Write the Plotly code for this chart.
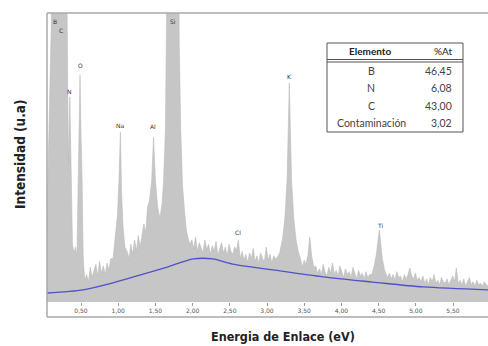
import plotly.graph_objects as go

# ---------------- data ----------------
energy_kev = [
    0.040, 0.060, 0.080, 0.100, 0.115, 0.300, 0.315, 0.330, 0.350, 0.370,
    0.385, 0.405, 0.425, 0.445, 0.460, 0.475, 0.487, 0.500, 0.515, 0.530, 0.550,
    0.575, 0.600, 0.625, 0.650, 0.675, 0.700, 0.725, 0.750, 0.775, 0.800,
    0.825, 0.850, 0.875, 0.900,
    0.930, 0.960, 0.990, 1.010, 1.030, 1.045, 1.065, 1.090, 1.120,
    1.145, 1.170, 1.195, 1.220, 1.245, 1.270, 1.295, 1.320,
    1.345, 1.370, 1.395, 1.420, 1.450, 1.475, 1.500, 1.530, 1.560, 1.590,
    1.610, 1.635, 1.660, 1.675, 1.805, 1.820, 1.840, 1.865, 1.890,
    1.915, 1.940, 1.965, 1.990, 2.015, 2.040, 2.065, 2.090, 2.115, 2.140,
    2.165, 2.190, 2.215, 2.240, 2.265, 2.290, 2.315, 2.340, 2.365, 2.390,
    2.415, 2.440, 2.465, 2.490, 2.515, 2.540, 2.565, 2.590, 2.615, 2.640,
    2.665, 2.690, 2.715, 2.740, 2.765, 2.790, 2.815, 2.840, 2.865, 2.890,
    2.915, 2.940, 2.965, 2.990, 3.015, 3.040, 3.065, 3.090, 3.115, 3.140,
    3.170, 3.210, 3.240, 3.270, 3.300, 3.330, 3.360, 3.390, 3.420, 3.450,
    3.475, 3.500, 3.520, 3.550, 3.575, 3.600, 3.630,
    3.655, 3.680, 3.705, 3.730, 3.755, 3.780, 3.805, 3.830, 3.855, 3.880,
    3.905, 3.930, 3.955, 3.980, 4.005, 4.030, 4.055, 4.080, 4.105, 4.130,
    4.155, 4.180, 4.205, 4.230, 4.255, 4.280, 4.305, 4.330, 4.355, 4.380,
    4.410, 4.440, 4.470, 4.490, 4.510, 4.530, 4.550, 4.580, 4.620,
    4.645, 4.670, 4.695, 4.720, 4.745, 4.770, 4.795, 4.820, 4.845, 4.870,
    4.895, 4.920, 4.945, 4.970, 4.995, 5.020, 5.045,
    5.070, 5.095, 5.120, 5.145, 5.170, 5.195, 5.220, 5.245, 5.270, 5.295,
    5.320, 5.345, 5.370, 5.395, 5.420, 5.445, 5.470, 5.495, 5.520, 5.545,
    5.570, 5.595, 5.620, 5.645, 5.670, 5.695, 5.720, 5.745, 5.770, 5.795,
    5.820, 5.845, 5.870, 5.895, 5.920, 5.945, 5.970,
]
intensity = [
    250, 450, 700, 950, 1600, 1600, 950, 480, 710, 420,
    200, 170, 190, 160, 420, 590, 785, 580, 420, 150, 75,
    95, 70, 120, 85, 110, 130, 90, 140, 100, 125,
    95, 135, 110, 150,
    150, 220, 300, 420, 588, 380, 260, 190, 175,
    150, 200, 165, 215, 175, 230, 190, 240,
    270, 240, 330, 350, 420, 570, 420, 330, 290, 340,
    420, 600, 900, 1600, 1600, 900, 600, 400, 320,
    250, 220, 200, 215, 185, 225, 175, 205, 190, 170,
    215, 180, 200, 165, 195, 175, 210, 160, 185, 205,
    170, 190, 160, 200, 175, 165, 190, 180, 215, 150,
    175, 145, 165, 135, 170, 150, 185, 140, 160, 135,
    170, 150, 140, 190, 145, 165, 135, 160, 150, 155,
    170, 220, 290, 420, 758, 420, 290, 215, 175, 150,
    120, 145, 130, 160, 225, 160, 120,
    125, 100, 115, 95, 130, 105, 90, 120, 100, 135,
    95, 110, 90, 125, 100, 85, 115, 95, 105, 85,
    120, 95, 80, 110, 90, 100, 80, 105, 85, 95,
    95, 125, 165, 210, 249, 200, 150, 110, 85,
    100, 80, 95, 75, 105, 85, 90, 70, 95, 80,
    95, 118, 90, 80, 100, 75, 85,
    70, 90, 65, 80, 60, 85, 70, 95, 65, 75,
    60, 85, 70, 65, 80, 60, 75, 90, 70, 118,
    65, 75, 60, 80, 55, 70, 85, 60, 70, 55,
    75, 60, 65, 55, 70, 60, 55,
]
assert len(energy_kev) == len(intensity)

background_kev = [0.04, 0.53, 0.93, 1.29, 1.66, 2.01, 2.27, 2.54, 3.08, 3.75, 4.42, 5.10, 5.97]
background_counts = [31, 42, 66, 93, 121, 149, 149, 131, 111, 87, 69, 52, 42]

peak_labels = ["B", "C", "N", "O", "Na", "Al", "Si", "Cl", "K", "Ti"]
peak_label_kev = [0.151, 0.231, 0.352, 0.487, 1.024, 1.468, 1.737, 2.610, 3.296, 4.519]
peak_label_counts = [969, 938, 730, 817, 612, 606, 969, 239, 779, 266]

tick_kev = [0.5, 1.0, 1.5, 2.0, 2.5, 3.0, 3.5, 4.0, 4.5, 5.0, 5.5]

table_elements = ["B", "N", "C", "Contaminación"]
table_percent = ["46,45", "6,08", "43,00", "3,02"]

# ---------------- layout helpers (pixel -> paper) ----------------
W, H = 488, 346
ML, MR, MT, MB = 47, 0, 13, 29
PW, PH = W - ML - MR, H - MT - MB


def px(p):
    return (p - ML) / PW


def py(p):
    return (H - MB - p) / PH


TITLE_FONT = "DejaVu Sans Condensed, Liberation Sans Narrow, Roboto, sans-serif"
TABLE_FONT = "Lato, Open Sans, sans-serif"

fig = go.Figure()
fig.add_trace(go.Scatter(
    x=energy_kev, y=intensity, mode="lines",
    line=dict(width=0.6, color="#bcbcbc"),
    fill="tozeroy", fillcolor="#c6c6c6",
    hoverinfo="skip", showlegend=False,
))
fig.add_trace(go.Scatter(
    x=background_kev, y=background_counts, mode="lines",
    line=dict(width=1.3, color="#5050c8", shape="spline", smoothing=0.8),
    hoverinfo="skip", showlegend=False,
))

annotations = []
for lab, ex, cy in zip(peak_labels, peak_label_kev, peak_label_counts):
    annotations.append(dict(x=ex, y=cy, xref="x", yref="y", text=lab, showarrow=False,
                            xanchor="center", yanchor="middle",
                            font=dict(size=6, color="#333333", family="DejaVu Sans")))


def paper_text(x, y, text, size, color, family, xanchor="center", angle=0):
    return dict(x=px(x), y=py(y), xref="paper", yref="paper", text=text, showarrow=False,
                xanchor=xanchor, yanchor="middle", textangle=angle,
                font=dict(size=size, color=color, family=family))


# axis titles
annotations.append(paper_text(283, 336, "<b>Energia de Enlace (eV)</b>", 12.5, "#222222", TITLE_FONT))
annotations.append(paper_text(20, 154, "<b>Intensidad (u.a)</b>", 13.5, "#222222", TITLE_FONT, angle=-90))

# table
tx0, tx1, ty0, ty1 = 327, 463, 43, 132
shapes = [
    dict(type="line", xref="paper", yref="paper", x0=0, x1=0, y0=0, y1=1,
         line=dict(color="#a8a8a8", width=1.5)),
    dict(type="line", xref="paper", yref="paper", x0=0, x1=1, y0=1, y1=1,
         line=dict(color="#a8a8a8", width=1.5)),
    dict(type="line", xref="paper", yref="paper", x0=0, x1=1, y0=0, y1=0,
         line=dict(color="#a8a8a8", width=1.5)),
    dict(type="rect", xref="paper", yref="paper", x0=px(tx0), x1=px(tx1), y0=py(ty1), y1=py(ty0),
         line=dict(color="#555555", width=1), fillcolor="white"),
    dict(type="line", xref="paper", yref="paper", x0=px(tx0), x1=px(tx1), y0=py(59.5), y1=py(59.5),
         line=dict(color="#555555", width=1)),
    dict(type="line", xref="paper", yref="paper", x0=px(tx0), x1=px(tx1), y0=py(62), y1=py(62),
         line=dict(color="#555555", width=1)),
]
annotations.append(paper_text(370, 51, "<b>Elemento</b>", 10, "#222222", TABLE_FONT))
annotations.append(paper_text(454, 51, "%At", 10, "#222222", TABLE_FONT, xanchor="right"))
row_y = [71, 88.5, 106, 123]
for el, val, ry in zip(table_elements, table_percent, row_y):
    annotations.append(paper_text(371, ry, el, 10.5, "#444444", TABLE_FONT))
    annotations.append(paper_text(454, ry, val, 10.5, "#444444", TABLE_FONT, xanchor="right"))

fig.update_layout(
    width=W, height=H,
    margin=dict(l=ML, r=MR, t=MT, b=MB, pad=0),
    paper_bgcolor="white", plot_bgcolor="white",
    separators=", ",
    xaxis=dict(
        range=[0.043, 0.5 + (W - MR - 81) / 74.4],
        tickvals=tick_kev, tickformat=".2f",
        ticks="outside", ticklen=3, tickwidth=1, tickcolor="#999999",
        tickfont=dict(size=6, color="#555555", family="DejaVu Sans"),
        showgrid=False, zeroline=False, showline=False,
        anchor="free", position=(H - MB - 302) / PH,
    ),
    yaxis=dict(
        range=[-51.9, 1000], showticklabels=False, ticks="",
        showgrid=False, zeroline=False, showline=False,
    ),
    annotations=annotations,
    shapes=shapes,
)

fig.write_html("out.html")
